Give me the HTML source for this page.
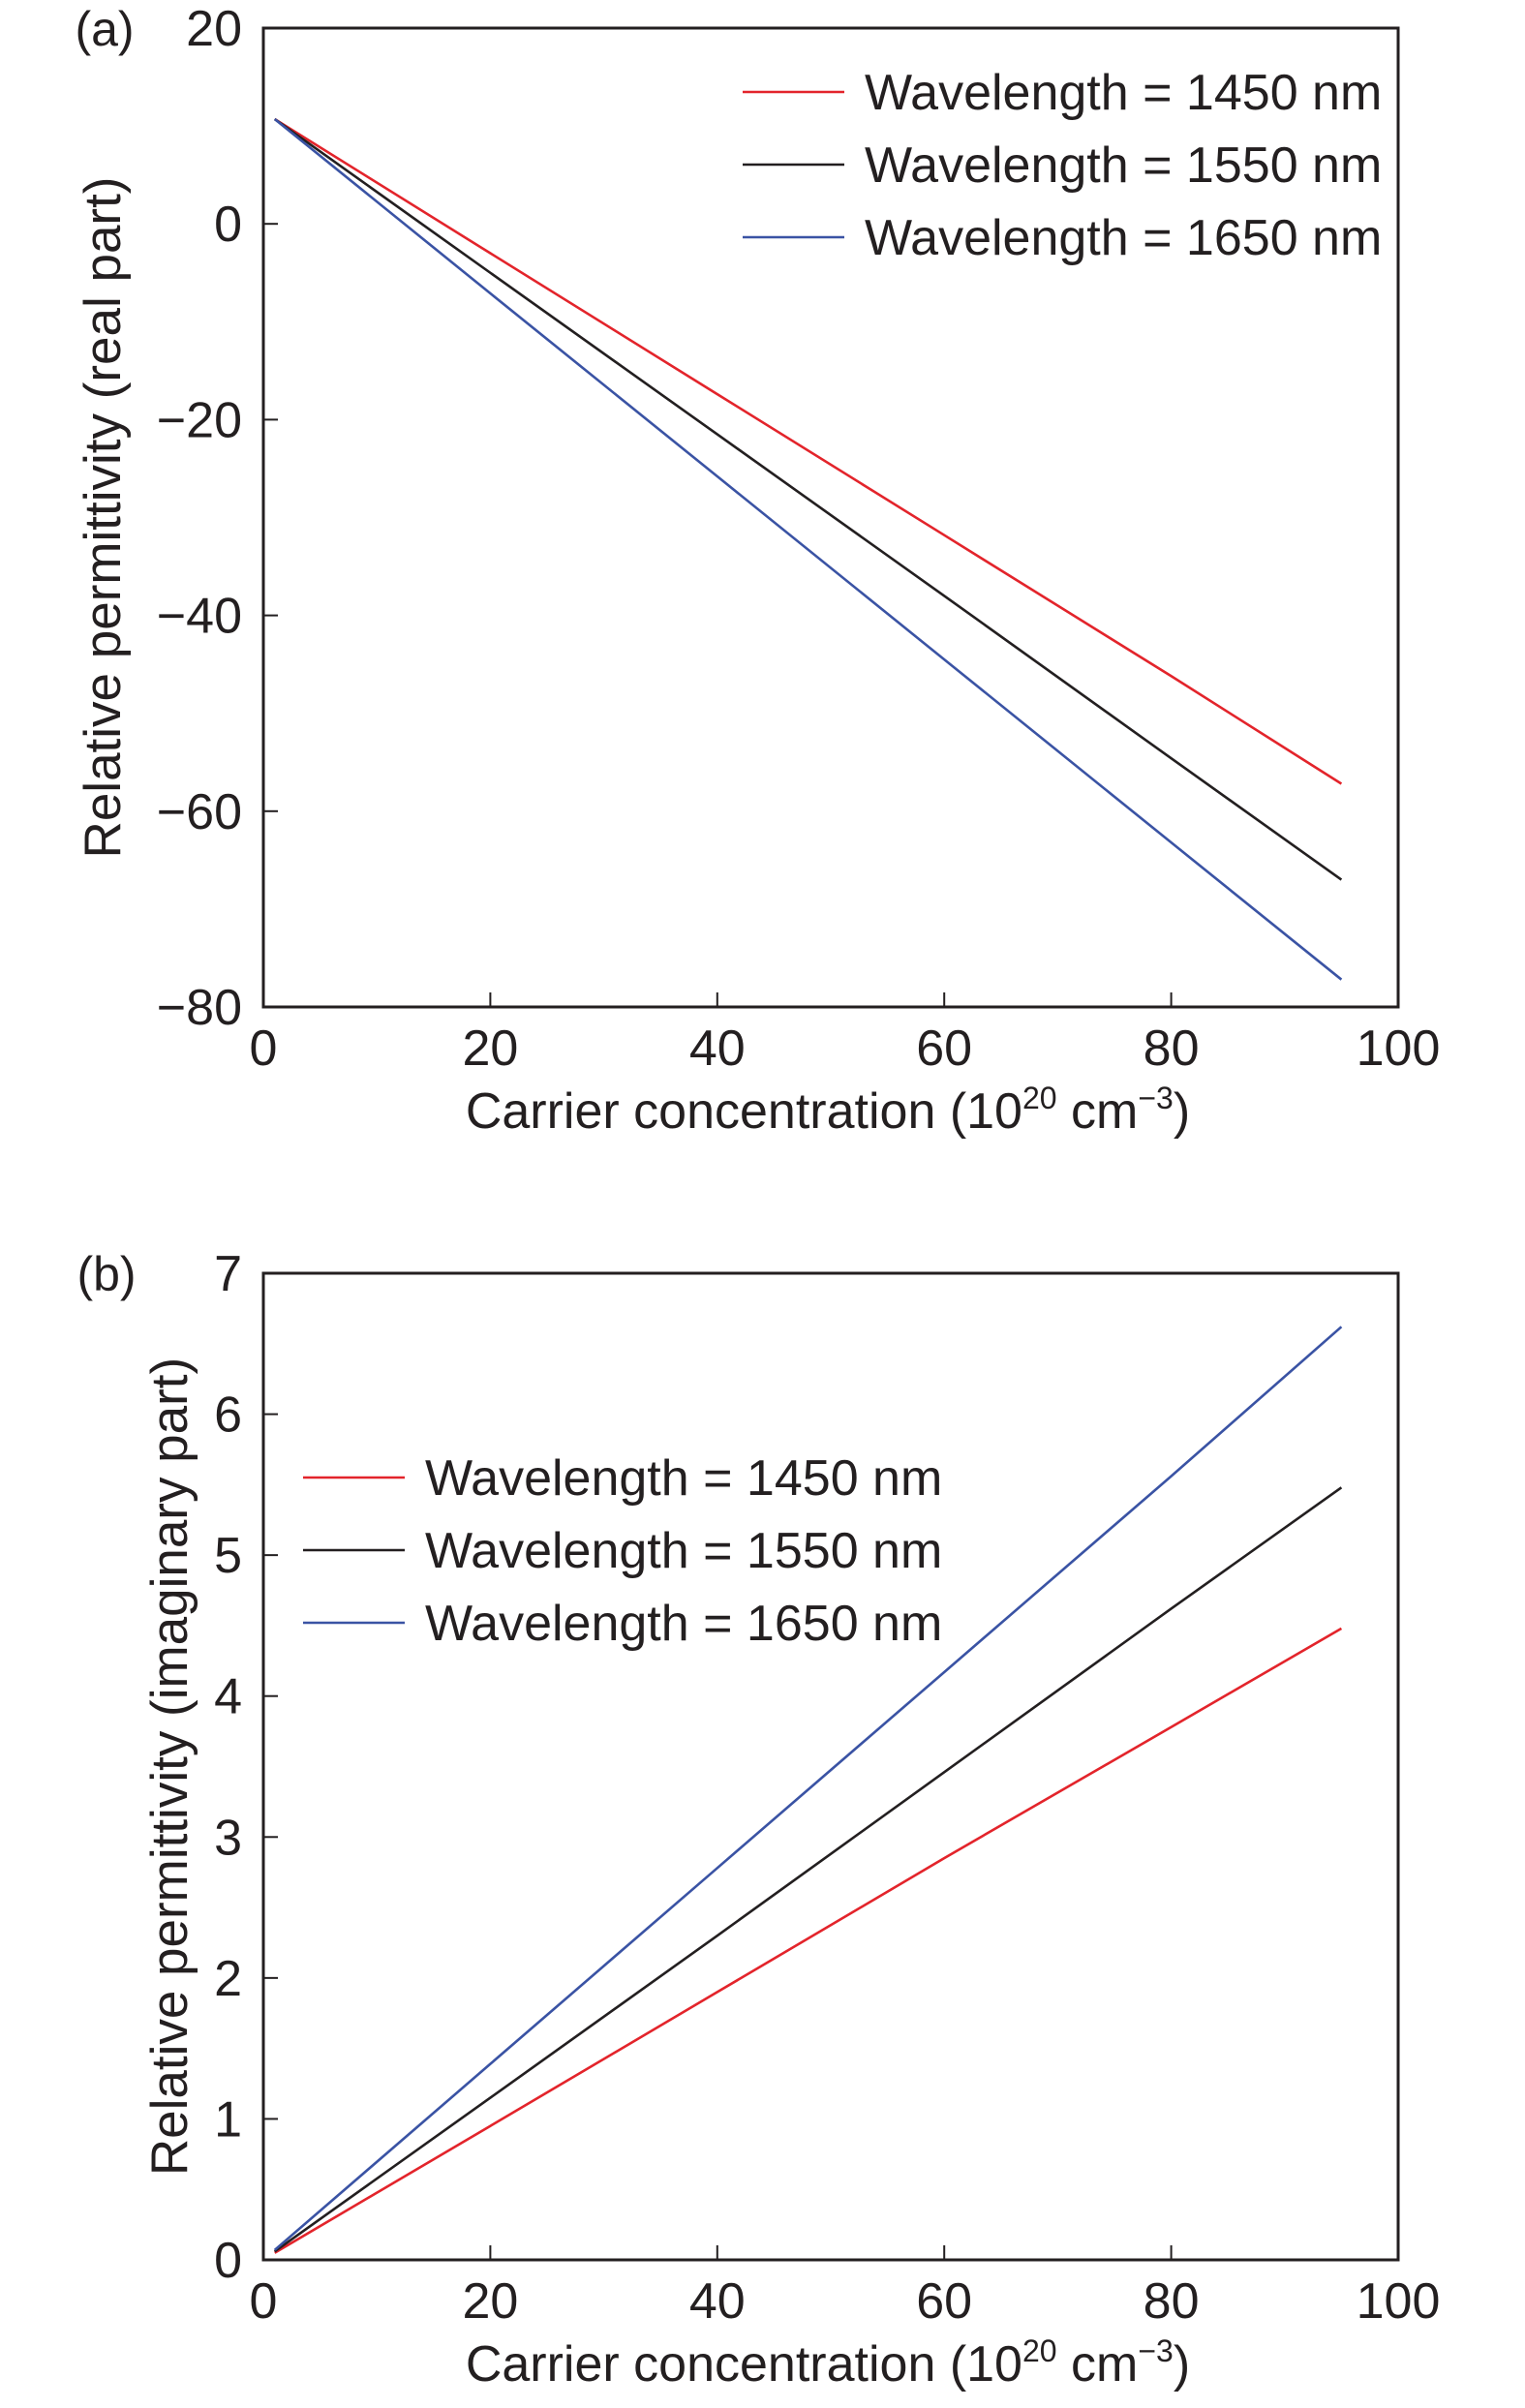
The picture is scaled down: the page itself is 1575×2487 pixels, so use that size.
<!DOCTYPE html>
<html><head><meta charset="utf-8"><style>
html,body{margin:0;padding:0;background:#fff;}
svg text{font-family:"Liberation Sans",sans-serif;fill:#231f20;}
</style></head><body>
<svg id="fig" width="1575" height="2482" viewBox="0 0 1575 2482" xmlns="http://www.w3.org/2000/svg"></svg>
<script>
const xCats = [1, 20, 40, 60, 80, 95];
const realRed = [10.7, -3.0, -17.4, -31.8, -46.2, -57.2];
const realBlack = [10.7, -5.0, -21.5, -38.0, -54.6, -67.0];
const realBlue = [10.7, -7.1, -25.8, -44.5, -63.2, -77.2];
const imagRed = [0.05, 0.95, 1.9, 2.85, 3.78, 4.48];
const imagBlack = [0.06, 1.15, 2.3, 3.46, 4.62, 5.48];
const imagBlue = [0.07, 1.39, 2.78, 4.17, 5.56, 6.62];
const xTicks = [0, 20, 40, 60, 80, 100];
const yTicksA = [20, 0, -20, -40, -60, -80];
const yTicksB = [0, 1, 2, 3, 4, 5, 6, 7];
const legendLabels = ["Wavelength = 1450 nm", "Wavelength = 1550 nm", "Wavelength = 1650 nm"];
const colors = ["#e3242b", "#231f20", "#3a53a4"];

const svg = document.getElementById('fig');
const NS = 'http://www.w3.org/2000/svg';
function mk(tag, attrs, parent) {
  const e = document.createElementNS(NS, tag);
  for (const k in attrs) e.setAttribute(k, attrs[k]);
  (parent || svg).appendChild(e);
  return e;
}
function panel(cfg) {
  const g = mk('g', {});
  
  
  const L = 272, R = 1444, T = cfg.top, B = cfg.bottom;
  const sx = v => L + (v - 0) / 100 * (R - L);
  const sy = v => B - (v - cfg.ymin) / (cfg.ymax - cfg.ymin) * (B - T);
  const frame = mk('rect', {x: L, y: T, width: R - L, height: B - T, fill: 'none', stroke: '#231f20', 'stroke-width': 3}, g);
  
  
  xTicks.forEach(v => {
    const t = mk('line', {x1: sx(v), x2: sx(v), y1: B, y2: B - 15, stroke: '#231f20', 'stroke-width': 2}, g);
    
    
    const lb = mk('text', {x: sx(v), y: B + 60, 'text-anchor': 'middle', 'font-size': 52}, g);
    lb.textContent = v;
    
    
  });
  cfg.yticks.forEach(v => {
    const t = mk('line', {x1: L, x2: L + 15, y1: sy(v), y2: sy(v), stroke: '#231f20', 'stroke-width': 2}, g);
    
    
    const lb = mk('text', {x: L - 22, y: sy(v) + 18, 'text-anchor': 'end', 'font-size': 52}, g);
    lb.textContent = v < 0 ? '\u2212' + Math.abs(v) : v;
    
    
  });
  cfg.series.forEach((s, i) => {
    const p = mk('polyline', {points: xCats.map((x, j) => sx(x) + ',' + sy(s[j])).join(' '), fill: 'none', stroke: colors[i], 'stroke-width': 2.6}, g);
    
    
  });
  legendLabels.forEach((lbl, i) => {
    const y = cfg.legY + i * 75;
    const ln = mk('line', {x1: cfg.legX, x2: cfg.legX + 105, y1: y, y2: y, stroke: colors[i], 'stroke-width': 2.6}, g);
    
    
    const tx = mk('text', {x: cfg.legX + 126, y: y + 18, 'font-size': 52}, g);
    tx.textContent = lbl;
    
    
  });
  const xt = mk('text', {x: 855, y: B + 125, 'text-anchor': 'middle', 'font-size': 52}, g);
  xt.innerHTML = 'Carrier concentration (10<tspan dy="-20" font-size="32">20</tspan><tspan dy="20"> cm</tspan><tspan dy="-20" font-size="32">\u22123</tspan><tspan dy="20">)</tspan>';
  
  
  const yt = mk('text', {x: 0, y: 0, 'text-anchor': 'middle', 'font-size': 53, transform: 'translate(' + cfg.ytX + ',' + ((T + B) / 2) + ') rotate(-90)'}, g);
  yt.textContent = cfg.ytitle;
  
  
  const pl = mk('text', {x: cfg.plX, y: T + 18, 'text-anchor': 'middle', 'font-size': 50}, g);
  pl.textContent = cfg.label;
  
  
}
panel({name: 'panel-a', top: 29, bottom: 1040, ymin: -80, ymax: 20, yticks: yTicksA,
  series: [realRed, realBlack, realBlue], legX: 767, legY: 95, ytX: 124,
  ytitle: 'Relative permittivity (real part)', label: '(a)', plX: 108});
panel({name: 'panel-b', top: 1315, bottom: 2334, ymin: 0, ymax: 7, yticks: yTicksB,
  series: [imagRed, imagBlack, imagBlue], legX: 313, legY: 1526, ytX: 193,
  ytitle: 'Relative permittivity (imaginary part)', label: '(b)', plX: 110});
</script>
</body></html>
